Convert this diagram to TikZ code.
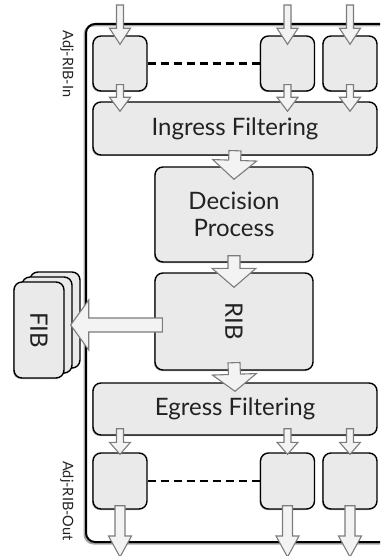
\documentclass[tikz,border=0pt]{standalone}
\usepackage{fontspec}
\setmainfont{Lato}
\usetikzlibrary{calc,shadows}

\definecolor{boxfill}{HTML}{EAEAEA}
\definecolor{arrowfill}{HTML}{F3F3F3}
\definecolor{arrowline}{HTML}{7C7C7C}
\definecolor{txt}{HTML}{222222}

\tikzset{
  box/.style={draw=black, line width=1.4pt, rounded corners=8pt, fill=boxfill,
    inner sep=0pt, text=txt, font=\fontsize{24}{27}\selectfont, align=center,
    drop shadow={shadow xshift=-1pt, shadow yshift=-1pt, opacity=.35, fill=black}},
  card/.style={box, minimum width=50pt, minimum height=96pt},
  port/.style={box, minimum width=54pt, minimum height=55pt},
  wide/.style={box, minimum width=284pt, minimum height=53pt},
  mid/.style={box, minimum width=158pt},
  blockarrow/.style={draw=arrowline, fill=arrowfill, line width=1.1pt, line join=miter},
  dots/.style={line width=2.5pt, dash pattern=on 8pt off 5pt},
  sidelabel/.style={rotate=-90, text=txt, font=\fontsize{14.5}{16}\selectfont}
}

% block arrow: start, tip, shaft half width, head half width, head length
\newcommand\blockarrow[5]{%
  \coordinate (ba-s) at #1;
  \coordinate (ba-t) at #2;
  \coordinate (ba-b) at ($(ba-t)!#5!(ba-s)$);
  \draw[blockarrow] ($(ba-s)!#3!90:(ba-t)$) -- ($(ba-b)!#3!90:(ba-t)$)
    -- ($(ba-b)!#4!90:(ba-t)$) -- (ba-t) -- ($(ba-b)!#4!-90:(ba-t)$)
    -- ($(ba-b)!#3!-90:(ba-t)$) -- ($(ba-s)!#3!-90:(ba-t)$) -- cycle;}

\begin{document}
\begin{tikzpicture}[x=1pt, y=-1pt]
\useasboundingbox (0,0) rectangle (380,556);
\clip (0,0) rectangle (380,556);

% router frame
\draw[line width=2pt, black!35, rounded corners=9pt] (84.5,25.5) rectangle (400,543.5);
\draw[line width=2pt, rounded corners=9pt] (86,24) rectangle (400,542);

\node[sidelabel] (lin) at (67,64) {Adj-RIB-In};
\node[sidelabel] (lout) at (67,501) {Adj-RIB-Out};

% incoming ports
\node[port] (a1) at (120,63.5) {};
\node[port] (a2) at (287.5,63.5) {};
\node[port] (a3) at (350,63.5) {};
\draw[dots] (a1.east) -- (a2.west);

\node[wide] (ing) at (235,128.5) {Ingress Filtering};
\node[mid, minimum height=95pt] (dec) at (234,214.5) {Decision\\Process};
\node[mid, minimum height=97pt] (rib) at (234,321.5) {\rotatebox{-90}{RIB}};
\node[wide, minimum height=52pt] (egr) at (235,409) {Egress Filtering};

% outgoing ports
\node[port, minimum height=56pt] (b1) at (120,481) {};
\node[port, minimum height=56pt] (b2) at (287.5,481) {};
\node[port, minimum height=56pt] (b3) at (350,481) {};
\draw[dots] (b1.east) -- (b2.west);

% forwarding table stack
\node[card] (fib3) at (55,320) {};
\node[card] (fib2) at (47,325) {};
\node[card] (fib) at (39,330) {\rotatebox{-90}{FIB}};

% free ends
\coordinate (in1) at (120,5);
\coordinate (in2) at (287.5,5);
\coordinate (in3) at (350,5);
\coordinate (out1) at (120,557);
\coordinate (out2) at (287.5,557);
\coordinate (out3) at (350,557);

% arrows into the incoming ports
\foreach \i/\p in {in1/a1,in2/a2,in3/a3}{
  \blockarrow{(\i)}{($(\p.north)+(0,9)$)}{3.5pt}{10.5pt}{16pt}
  \blockarrow{($(\p.south)+(0,-7)$)}{($(\p.south |- ing.north)+(0,10)$)}{3.5pt}{10.5pt}{14pt}
}

\blockarrow{($(ing.south)+(0,-5)$)}{($(dec.north)+(0,13)$)}{6pt}{22pt}{19pt}
\blockarrow{($(dec.south)+(0,-7)$)}{($(rib.north)+(0,15)$)}{6pt}{22pt}{19pt}
\blockarrow{($(rib.south)+(0,-8)$)}{($(egr.north)+(0,9)$)}{6pt}{22pt}{17pt}
\blockarrow{($(rib.west)+(8,3.5)$)}{($(fib.east)+(6,-5)$)}{7pt}{25pt}{18pt}

% arrows out of the outgoing ports
\foreach \p/\o in {b1/out1,b2/out2,b3/out3}{
  \blockarrow{($(\p.north |- egr.south)+(0,-7)$)}{($(\p.north)+(0,2)$)}{3.5pt}{10.5pt}{12pt}
  \blockarrow{($(\p.south)+(0,-4)$)}{(\o)}{5pt}{11.5pt}{21pt}
}
\end{tikzpicture}
\end{document}
